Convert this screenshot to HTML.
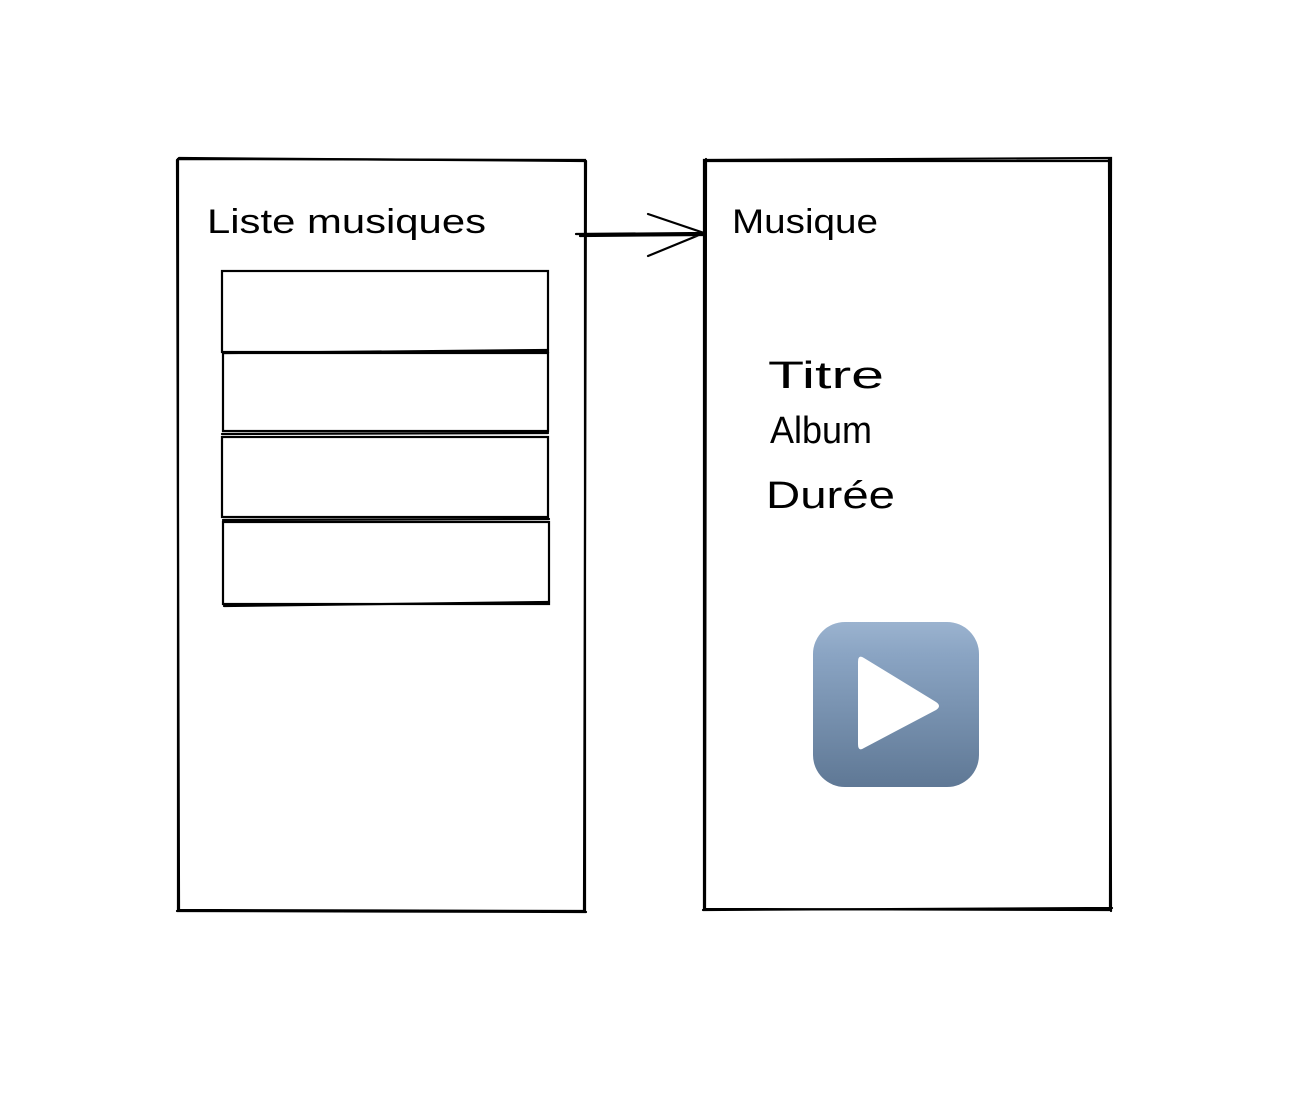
<!DOCTYPE html>
<html><head><meta charset="utf-8"><style>html,body{margin:0;padding:0;background:#fff}svg{display:block}</style></head>
<body>
<svg width="1314" height="1118" viewBox="0 0 1314 1118" xmlns="http://www.w3.org/2000/svg">
<defs>
<linearGradient id="g" x1="0" y1="0" x2="0" y2="1">
<stop offset="0" stop-color="#9bb3cf"/><stop offset="0.2" stop-color="#8aa4c3"/><stop offset="1" stop-color="#5f7895"/>
</linearGradient>
</defs>
<g fill="none" stroke="#000" stroke-width="2.2" stroke-linecap="round">
<path d="M178 159 L585 160 L585 911 L178 910 Z"/>
<path d="M179 158 L584 161 M586 161 L584 910 M177 911 L586 912 M177 160 L179 909"/>
<path d="M704 160 L1111 158 L1110 910 L704 909 Z"/>
<path d="M705 161 L1109 161 M1109 159 L1111 911 M703 910 L1112 908 M706 159 L705 910"/>
<rect x="222" y="271" width="326" height="81"/>
<rect x="223" y="353" width="325" height="78"/>
<rect x="222" y="437" width="326" height="80"/>
<rect x="223" y="522" width="326" height="82"/>
<path d="M224 353 L548 350 M222 434 L548 433 M223 520 L549 519 M224 606 L549 602"/>
<path d="M576 234 L704 233 M580 236 L703 235 M648 214 L704 233 L648 256"/>
</g>
<g font-family="'Liberation Sans', sans-serif" font-size="34" fill="#000">
<text x="207" y="233" textLength="279" lengthAdjust="spacingAndGlyphs">Liste musiques</text>
<text x="732" y="233" textLength="146" lengthAdjust="spacingAndGlyphs">Musique</text>
<text x="768" y="388" font-size="38" textLength="116" lengthAdjust="spacingAndGlyphs">Titre</text>
<text x="770" y="443" font-size="38" textLength="102" lengthAdjust="spacingAndGlyphs">Album</text>
<text x="766" y="508" font-size="38" textLength="129" lengthAdjust="spacingAndGlyphs">Durée</text>
</g>
<rect x="813" y="622" width="166" height="165" rx="32" fill="url(#g)"/>
<path d="M864 658 Q858 654 858 662 L858 744 Q858 752 864 748 L936 710 Q942 706 936 702 Z" fill="#fff"/>
</svg>
</body></html>
